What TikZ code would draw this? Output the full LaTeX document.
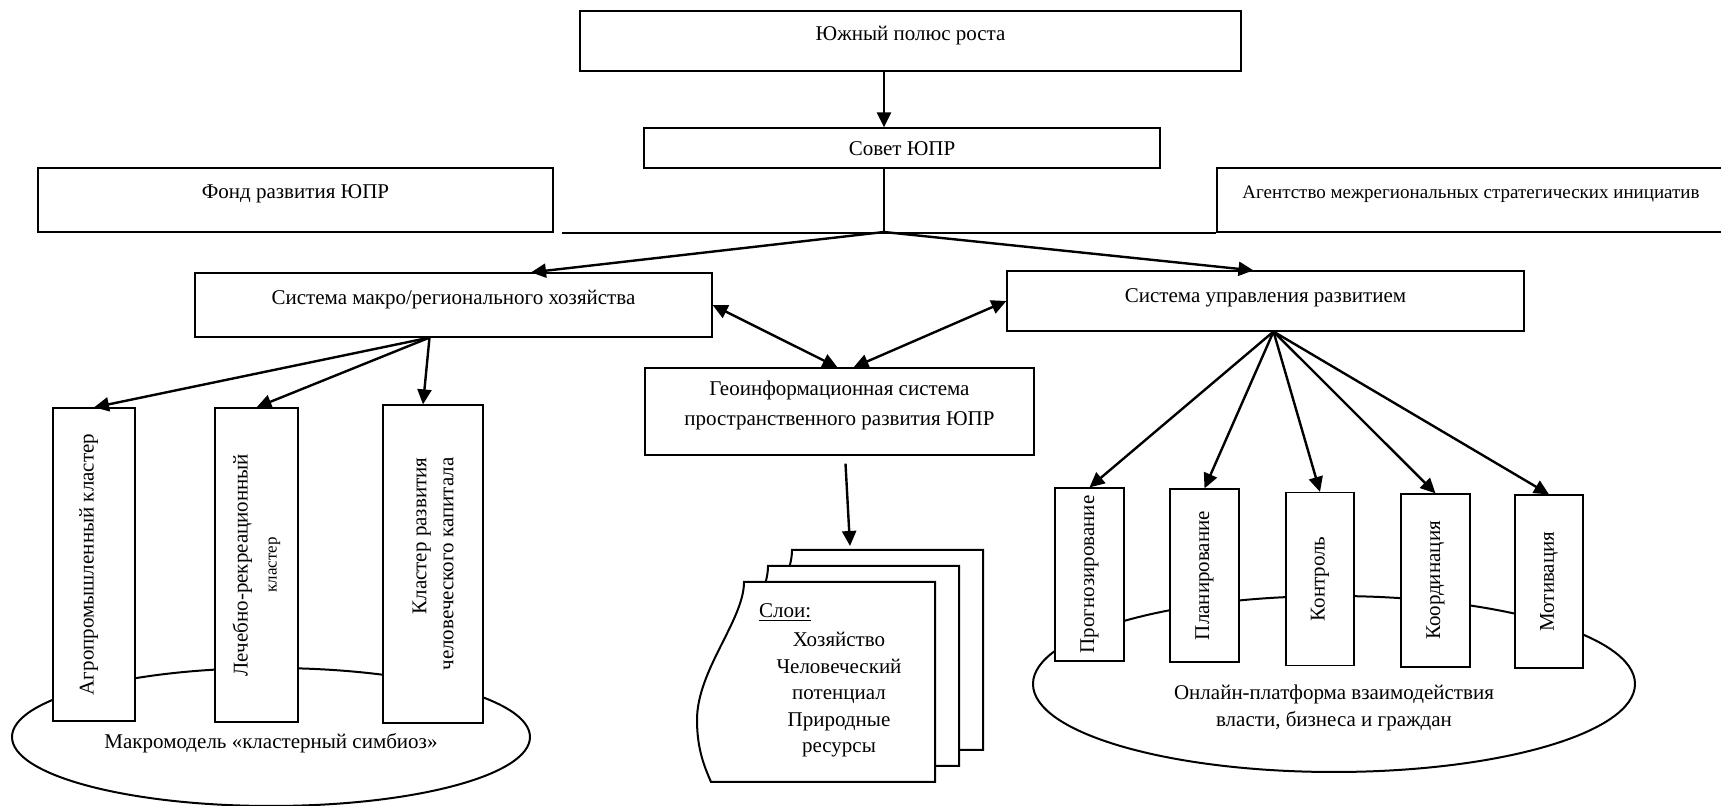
\documentclass[tikz,border=0pt]{standalone}
\usepackage{fontspec}
\setmainfont{Liberation Serif}
\usetikzlibrary{shapes,positioning,arrows,arrows.meta}

\begin{document}
\begin{tikzpicture}[x=0.5pt,y=-0.5pt,
    font=\fontsize{10.5}{13.5}\selectfont,
    >={Triangle[length=7.5pt,width=7pt]},
    box/.style={draw, line width=0.6pt, fill=white, inner sep=0pt, text height=7.5pt, text depth=#1},
    box/.default=2pt,
    vbox/.style={draw, line width=0.6pt, fill=white, rotate=90, inner sep=0pt, align=center},
    link/.style={->, line width=1.2pt},
    oval/.style={draw, ellipse, line width=1pt, inner sep=0pt},
    sheet/.style={draw, line width=1pt, fill=white}]

    \useasboundingbox (0,0) rectangle (1721,806);

    % ovals behind the boxes
    \node[oval, minimum width=259pt, minimum height=69pt, text height=14pt, text depth=2pt] (symbiosis) at (271,737) {Макромодель «кластерный симбиоз»};
    \node[oval, minimum width=301pt, minimum height=88pt,
          label={[align=center, yshift=-12pt]center:{Онлайн-платформа взаимодействия\\власти, бизнеса и граждан}}] (platform) at (1334,684) {};

    \node[box=7.5pt, minimum width=330.5pt, minimum height=30pt] (pole) at (910.5,41) {Южный полюс роста};
    \node[box=0pt, minimum width=258pt, minimum height=20pt] (sovet) at (902,148) {Совет ЮПР};
    \node[box=8.5pt, minimum width=257.5pt, minimum height=32pt] (fond) at (295.5,200) {Фонд развития ЮПР};
    \node[box=8.5pt, minimum width=254pt, minimum height=32pt, font=\fontsize{9.5}{11}\selectfont] (agency) at (1471,200) {Агентство межрегиональных стратегических инициатив};
    \node[box=7.5pt, minimum width=258.5pt, minimum height=32pt] (macro) at (453.5,305) {Система макро/регионального хозяйства};
    \node[box=5.5pt, minimum width=258.5pt, minimum height=30pt] (upr) at (1265.5,301) {Система управления развитием};
    \node[draw, line width=0.6pt, fill=white, minimum width=194.5pt, minimum height=43.5pt,
          label={[align=center, yshift=3pt, font=\fontsize{10.5}{15}\selectfont]center:{Геоинформационная система\\пространственного развития ЮПР}}] (geo) at (839.5,411.5) {};

    \node[vbox, minimum width=156.5pt, minimum height=41pt, text height=7.5pt, text depth=8pt] (agro) at (94,564.5) {Агропромышленный кластер};
    \node[vbox, minimum width=157pt, minimum height=41.5pt] (spa) at (256.5,565) {Лечебно-рекреационный\\[1pt]{\fontsize{8.5}{10}\selectfont кластер}};
    \node[vbox, align=right, minimum width=159pt, minimum height=50pt] (human) at (433,564) {Кластер развития\\человеческого капитала};

    \node[vbox, minimum width=86.5pt, minimum height=34.5pt] (forecast) at (1089.5,574.5) {Прогнозирование};
    \node[vbox, minimum width=86.5pt, minimum height=34.5pt] (plan) at (1204.5,575.5) {Планирование};
    \node[vbox, minimum width=86.5pt, minimum height=34pt] (control) at (1320,579) {Контроль};
    \node[vbox, minimum width=86.5pt, minimum height=34.5pt] (coord) at (1435.5,580.5) {Координация};
    \node[vbox, minimum width=86.5pt, minimum height=34pt] (motiv) at (1549,581.5) {Мотивация};

    % stacked layers
    \draw[sheet, shift={(48,-32)}] (744,582) -- (935,582) -- (935,782) -- (711,782) .. controls (705,768) and (697,750) .. (697,720) .. controls (697,670) and (744,620) .. (744,582) -- cycle;
    \draw[sheet, shift={(24,-16)}] (744,582) -- (935,582) -- (935,782) -- (711,782) .. controls (705,768) and (697,750) .. (697,720) .. controls (697,670) and (744,620) .. (744,582) -- cycle;
    \draw[sheet] (744,582) -- (935,582) -- (935,782) -- (711,782) .. controls (705,768) and (697,750) .. (697,720) .. controls (697,670) and (744,620) .. (744,582) -- cycle;
    \coordinate (stack) at (850,546);
    \node[anchor=west] (layerhead) at (752,613) {\underline{Слои:}};
    \node[align=center, font=\fontsize{10.5}{13.25}\selectfont] (layers) at (839,695) {Хозяйство\\Человеческий\\потенциал\\Природные\\ресурсы};

    \coordinate (hub) at (884,232);
    \coordinate (macrofoot) at ([xshift=-12pt]macro.south);
    \coordinate (uprfoot) at ([xshift=4pt]upr.south);

    \draw[link] (pole.south -| hub) -- (sovet.north -| hub);
    \draw[line width=0.6pt] (sovet.south -| hub) -- (hub);
    \draw[line width=1pt] ([xshift=4pt]fond.south east) -- (agency.south west);
    \draw[link] (hub) -- ([xshift=38.75pt]macro.north);
    \draw[link] (hub) -- ([xshift=-6pt]upr.north);
    \draw[link, <->] (macro.east) -- ([xshift=-1pt]geo.north);
    \draw[link, <->] (upr.west) -- ([xshift=7pt]geo.north);
    \draw[link] ([xshift=3pt,yshift=-4pt]geo.south) -- (stack);

    \path[link] (macrofoot) edge (agro.east) edge (spa.east) edge ([xshift=-5pt]human.east);
    \path[link] (uprfoot) edge (forecast.east) edge (plan.east) edge (control.east) edge (coord.east) edge (motiv.east);
\end{tikzpicture}
\end{document}
